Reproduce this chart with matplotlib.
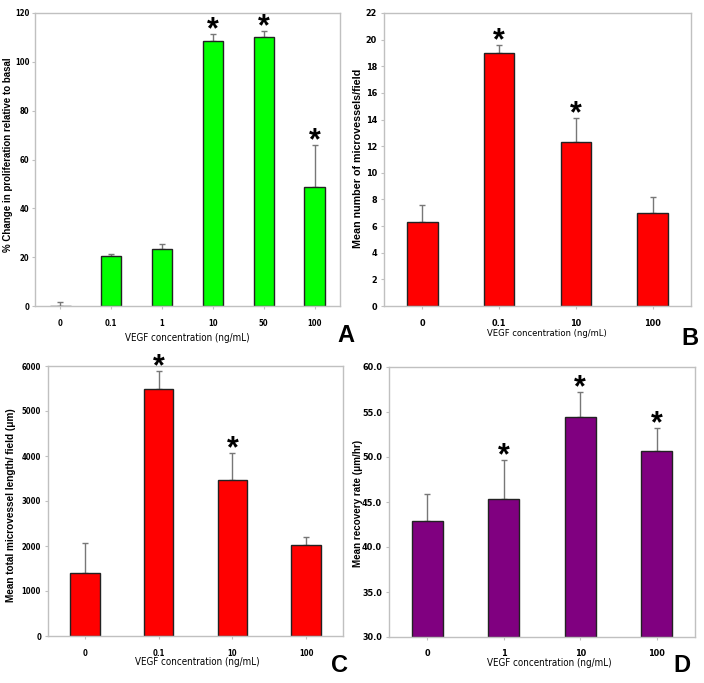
import matplotlib
matplotlib.use("Agg")
import matplotlib.pyplot as plt
from matplotlib import font_manager

flist = font_manager.fontManager.ttflist
names = {f.name for f in flist}
COND_STRETCH = 'normal'
if 'Liberation Sans Narrow' in names:
    COND = 'Liberation Sans Narrow'
elif any(f.name == 'DejaVu Sans' and str(f.stretch) in ('condensed', 'semi-condensed', '75', '87')
         for f in flist):
    COND = 'DejaVu Sans'
    COND_STRETCH = 'condensed'
else:
    COND = 'Liberation Sans'
plt.rcParams['font.family'] = [COND, 'DejaVu Sans']

# Panel A
a_cats = ['0', '0.1', '1', '10', '50', '100']
a_vals = [0.0, 20.5, 23.2, 108.7, 110.3, 48.7]
a_errs = [1.5, 1.0, 2.0, 2.6, 2.2, 17.2]
a_star = [False, False, False, True, True, True]
a_ticks = [0, 20, 40, 60, 80, 100, 120]

# Panel B
b_cats = ['0', '0.1', '10', '100']
b_vals = [6.3, 19.0, 12.35, 7.0]
b_errs = [1.25, 0.6, 1.8, 1.15]
b_star = [False, True, True, False]
b_ticks = [0, 2, 4, 6, 8, 10, 12, 14, 16, 18, 20, 22]

# Panel C
c_cats = ['0', '0.1', '10', '100']
c_vals = [1400, 5500, 3470, 2020]
c_errs = [660, 400, 590, 170]
c_star = [False, True, True, False]
c_ticks = [0, 1000, 2000, 3000, 4000, 5000, 6000]

# Panel D
d_cats = ['0', '1', '10', '100']
d_vals = [42.9, 45.3, 54.4, 50.7]
d_errs = [3.0, 4.4, 2.8, 2.5]
d_star = [False, True, True, True]
d_ticks = [30, 35, 40, 45, 50, 55, 60]

W, H = 704, 683
fig = plt.figure(figsize=(W / 100, H / 100), dpi=100)
renderer = fig.canvas.get_renderer()


def fit(t, target_px, horizontal=True):
    bb = t.get_window_extent(renderer=renderer)
    cur = bb.width if horizontal else bb.height
    if cur > 0:
        t.set_fontsize(t.get_fontsize() * target_px / cur)


def px(x, y):
    return x / W, 1 - y / H


STAR_FS = 22


def panel(box, cats, vals, errs, stars, ticks, color, fmt, tick_fs, ypad,
          ylabel, ylab_xy, ylab_len, xlab_xy, xlab_len, letter, letter_xy):
    l, t, r, b = box
    ax = fig.add_axes([l / W, 1 - b / H, (r - l) / W, (b - t) / H])
    x = list(range(len(cats)))
    ax.bar(x, [v - ticks[0] for v in vals], bottom=ticks[0], width=0.4, color=color,
           edgecolor='#222222', linewidth=1.0, zorder=2)
    ax.errorbar(x, vals, yerr=[[0] * len(errs), errs], fmt='none', ecolor='#777777',
                elinewidth=1.0, capsize=2, capthick=1.0, zorder=1)
    em_px = STAR_FS * 100 / 72
    off_pt = (13 - 0.57 * em_px) * 72 / 100
    for xi, v, e, s in zip(x, vals, errs, stars):
        if s:
            ax.annotate('*', (xi, v + e), xytext=(0, off_pt), textcoords='offset points',
                        ha='center', va='baseline', fontsize=STAR_FS, fontweight='bold',
                        family='Liberation Sans')
    ax.set_xlim(-0.5, len(cats) - 0.5)
    ax.set_ylim(ticks[0], ticks[-1])
    ax.set_yticks(ticks)
    ax.set_yticklabels([fmt.format(tk) for tk in ticks], fontsize=tick_fs, fontweight='bold',
                       fontstretch=COND_STRETCH)
    ax.set_xticks(x)
    ax.set_xticklabels(cats, fontsize=tick_fs, fontweight='bold', fontstretch=COND_STRETCH)
    for sp in ax.spines.values():
        sp.set_color('#c0c0c0')
        sp.set_linewidth(1.0)
    ax.tick_params(axis='y', length=2, color='#c0c0c0', pad=ypad)
    ax.tick_params(axis='x', length=2, color='#c0c0c0', pad=7)
    yl = fig.text(*px(*ylab_xy), ylabel, rotation=90, ha='center', va='center',
                  fontsize=7.5, fontweight='bold', family='Liberation Sans')
    fit(yl, ylab_len, horizontal=False)
    xl = fig.text(*px(*xlab_xy), 'VEGF concentration (ng/mL)', ha='center', va='center',
                  fontsize=9.5, fontstretch=COND_STRETCH)
    fit(xl, xlab_len)
    fig.text(*px(*letter_xy), letter, ha='center', va='center', fontsize=17,
             fontweight='bold', family='Liberation Sans')
    return ax


panel((35, 13, 340, 306), a_cats, a_vals, a_errs, a_star, a_ticks, '#00ff00', '{:d}', 5.5, 2,
      '% Change in proliferation relative to basal', (8, 155), 195,
      (187, 338), 125, 'A', (346, 336))
panel((384, 13, 691, 306), b_cats, b_vals, b_errs, b_star, b_ticks, '#ff0000', '{:d}', 6.5, 3,
      'Mean number of microvessels/field', (358, 158), 180,
      (547, 333), 120, 'B', (690, 338))
panel((48, 366, 343, 636), c_cats, c_vals, c_errs, c_star, c_ticks, '#ff0000', '{:d}', 5.5, 3,
      'Mean total microvessel length/ field (μm)', (11, 505), 194,
      (197, 662), 125, 'C', (340, 665))
panel((389, 367, 695, 637), d_cats, d_vals, d_errs, d_star, d_ticks, '#800080', '{:.1f}', 6.5, 3,
      'Mean recovery rate (μm/hr)', (358, 503), 127,
      (549, 663), 125, 'D', (682, 666))

fig.savefig('out.png', dpi=100)
